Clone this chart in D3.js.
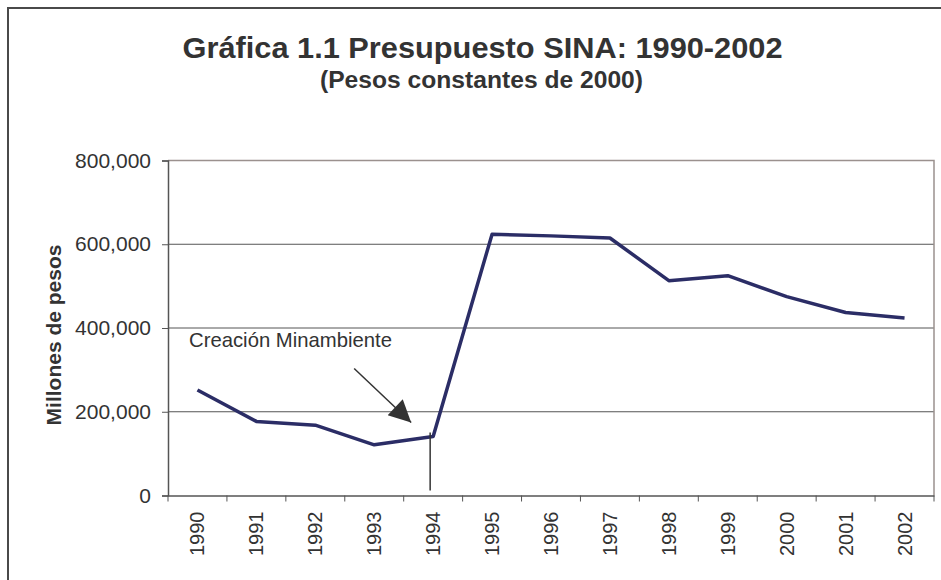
<!DOCTYPE html>
<html lang="es">
<head>
    <meta charset="UTF-8">
    <title>Gráfica 1.1 Presupuesto SINA</title>
    <script src="https://d3js.org/d3.v7.min.js"></script>
    <style>
        body { margin: 0; background: #fff; }
        text { font-family: Arial, "Liberation Sans", sans-serif; fill: #333; }
        .grid line { stroke: #555; stroke-width: 1; }
    </style>
</head>
<body>
    <svg id="chart"></svg>

    <script>
        const years = ["1990", "1991", "1992", "1993", "1994", "1995", "1996",
                       "1997", "1998", "1999", "2000", "2001", "2002"];
        const budget = [252000, 177000, 168000, 121000, 141000, 624000, 620000,
                        615000, 513000, 525000, 475000, 437000, 424000];
        const yTicks = [0, 200000, 400000, 600000, 800000];

        const width = 941, height = 580;
        const plotLeft = 168, plotRight = 934, plotTop = 160.5, plotBottom = 495.5;

        const svg = d3.select("#chart").attr("width", width).attr("height", height);

        // outer frame (right and bottom run off the page)
        svg.append("rect")
            .attr("x", 8).attr("y", 8)
            .attr("width", 1000).attr("height", 700)
            .attr("fill", "none").attr("stroke", "#4a4a4a").attr("stroke-width", 2);

        const x = d3.scaleBand().domain(years).range([plotLeft, plotRight]).padding(0);
        const y = d3.scaleLinear().domain([0, 800000]).range([plotBottom, plotTop]);

        // titles
        svg.append("text")
            .attr("x", 482.5).attr("y", 58)
            .attr("text-anchor", "middle")
            .attr("font-size", 30).attr("font-weight", "bold")
            .attr("textLength", 600).attr("lengthAdjust", "spacingAndGlyphs")
            .text("Gráfica 1.1 Presupuesto SINA: 1990-2002");
        svg.append("text")
            .attr("x", 481.5).attr("y", 88)
            .attr("text-anchor", "middle")
            .attr("font-size", 23).attr("font-weight", "bold")
            .attr("textLength", 323).attr("lengthAdjust", "spacingAndGlyphs")
            .text("(Pesos constantes de 2000)");

        // gridlines
        svg.append("g").attr("class", "grid")
            .selectAll("line")
            .data(yTicks.filter(d => d > 0 && d < 800000))
            .join("line")
            .attr("x1", plotLeft).attr("x2", plotRight)
            .attr("y1", d => y(d)).attr("y2", d => y(d));

        // plot border (top + right)
        svg.append("path")
            .attr("d", `M${plotLeft},${y(800000)}H${plotRight}V${y(0)}`)
            .attr("fill", "none").attr("stroke", "#9b918e").attr("stroke-width", 1.5);

        // y axis
        const yAxis = svg.append("g")
            .attr("transform", `translate(${plotLeft},0)`)
            .call(d3.axisLeft(y).tickValues(yTicks).tickSize(6).tickPadding(11)
                .tickFormat(d3.format(",")));
        yAxis.select(".domain").attr("stroke", "#555").attr("stroke-width", 1.5);
        yAxis.selectAll(".tick line").attr("stroke", "#555");
        yAxis.selectAll("text").attr("font-size", 21).attr("fill", "#333");

        // x axis: labels at band centres, ticks on boundaries
        const xAxis = svg.append("g")
            .attr("transform", `translate(0,${plotBottom})`)
            .call(d3.axisBottom(x).tickSize(0).tickPadding(0));
        xAxis.select(".domain").attr("stroke", "#555").attr("stroke-width", 1.5);
        xAxis.selectAll("text")
            .attr("font-size", 20).attr("fill", "#333")
            .attr("text-anchor", "end")
            .attr("transform", "rotate(-90)")
            .attr("x", -16).attr("y", 0).attr("dy", "0.35em");
        xAxis.selectAll(".bound")
            .data(years.map(d => x(d)).concat([x.range()[1]]))
            .join("line")
            .attr("class", "bound")
            .attr("x1", d => d).attr("x2", d => d)
            .attr("y1", 0).attr("y2", 6)
            .attr("stroke", "#555");

        svg.append("text")
            .attr("transform", `translate(61,335) rotate(-90)`)
            .attr("text-anchor", "middle")
            .attr("font-size", 21).attr("font-weight", "bold")
            .text("Millones de pesos");

        // series
        const line = d3.line()
            .x((d, i) => x(years[i]) + x.bandwidth() / 2)
            .y(d => y(d));
        svg.append("path")
            .datum(budget)
            .attr("d", line)
            .attr("fill", "none")
            .attr("stroke", "#2b2d66")
            .attr("stroke-width", 3.5)
            .attr("stroke-linejoin", "round");

        // annotation
        const px = x("1994") + x.bandwidth() / 2;
        const py = y(budget[years.indexOf("1994")]);
        svg.append("line")
            .attr("x1", px - 3).attr("x2", px - 3)
            .attr("y1", py - 4).attr("y2", y(0) - 5)
            .attr("stroke", "#333").attr("stroke-width", 1.5);

        svg.append("defs").append("marker")
            .attr("id", "head")
            .attr("viewBox", "0 0 10 10")
            .attr("refX", 10).attr("refY", 5)
            .attr("markerUnits", "userSpaceOnUse")
            .attr("markerWidth", 26).attr("markerHeight", 22)
            .attr("orient", "auto")
            .append("path")
            .attr("d", "M0,0L10,5L0,10Z")
            .attr("fill", "#333");
        svg.append("line")
            .attr("x1", px - 79).attr("y1", py - 68)
            .attr("x2", px - 22).attr("y2", py - 14)
            .attr("stroke", "#333").attr("stroke-width", 1.5)
            .attr("marker-end", "url(#head)");

        svg.append("text")
            .attr("x", 189).attr("y", 346.5)
            .attr("font-size", 21)
            .attr("textLength", 203).attr("lengthAdjust", "spacingAndGlyphs")
            .text("Creación Minambiente");
    </script>
</body>
</html>
